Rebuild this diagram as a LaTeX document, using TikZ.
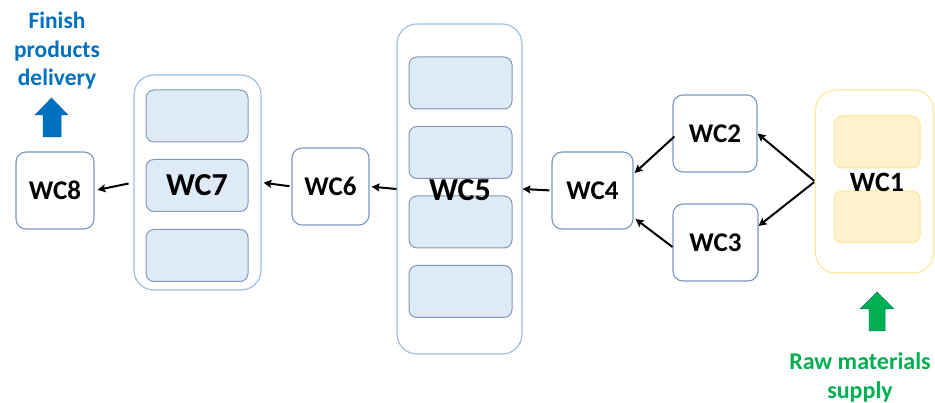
\documentclass[tikz,border=0pt]{standalone}
\usepackage{fontspec}
\setmainfont{Carlito}
\usetikzlibrary{arrows.meta}
\definecolor{boxline}{RGB}{118,152,194}
\definecolor{outerline}{RGB}{150,190,228}
\definecolor{innerfill}{RGB}{222,235,247}
\definecolor{innerline}{RGB}{128,152,184}
\definecolor{yelline}{RGB}{255,230,153}
\definecolor{yelfill}{RGB}{255,242,204}
\definecolor{blueT}{RGB}{0,112,192}
\definecolor{greenT}{RGB}{0,176,80}
\begin{document}
\begin{tikzpicture}[x=1pt,y=-1pt,
  wcbox/.style={draw=boxline, line width=1.1pt, rounded corners=10pt, fill=white, inner sep=0pt,
    font=\bfseries\fontsize{27}{32}\selectfont},
  outerbox/.style={draw=outerline, line width=1.1pt, rounded corners=20pt, inner sep=0pt},
  innerbox/.style={draw=innerline, line width=1pt, fill=innerfill, rounded corners=8pt, inner sep=0pt,
    minimum height=52pt},
  ybox/.style={draw=yelline, line width=1.1pt, rounded corners=20pt, inner sep=0pt},
  yinner/.style={draw=yelline, line width=1pt, fill=yelfill, rounded corners=8pt, inner sep=0pt,
    minimum width=86pt, minimum height=52pt},
  biglabel/.style={inner sep=0pt, font=\bfseries\fontsize{32}{38}\selectfont},
  flow/.style={line width=2pt, -{Stealth[length=8pt,width=8pt,inset=1.5pt]}}
]
\useasboundingbox (0,0) rectangle (935,403);

% WC8
\node[wcbox, minimum width=78pt, minimum height=77pt] (wc8) at (55,190.5) {WC8};

% WC7 group
\node[outerbox, minimum width=127pt, minimum height=215pt] (wc7) at (197.5,182.5) {};
\node[innerbox, minimum width=102pt] (wc7a) at (197,116) {};
\node[innerbox, minimum width=102pt, font=\bfseries\fontsize{32}{38}\selectfont] (wc7b) at (197,185.5) {WC7};
\node[innerbox, minimum width=102pt] (wc7c) at (197,255.5) {};

% WC6
\node[wcbox, minimum width=77pt, minimum height=77pt] (wc6) at (330.5,186.5) {WC6};

% WC5 group
\node[outerbox, minimum width=125pt, minimum height=330pt] (wc5) at (459.5,189) {};
\node[innerbox, minimum width=103pt] (wc5a) at (460.5,83) {};
\node[innerbox, minimum width=103pt] (wc5b) at (460.5,152.5) {};
\node[innerbox, minimum width=103pt] (wc5c) at (460.5,222) {};
\node[innerbox, minimum width=103pt] (wc5d) at (460.5,291.5) {};
\node[biglabel] (wc5label) at (460,190) {WC5};

% WC4, WC2, WC3
\node[wcbox, minimum width=81pt, minimum height=77pt] (wc4) at (592.5,190.5) {WC4};
\node[wcbox, minimum width=84pt, minimum height=77pt] (wc2) at (715,133.5) {WC2};
\node[wcbox, minimum width=85pt, minimum height=77pt] (wc3) at (715.5,242.5) {WC3};

% WC1 group
\node[ybox, minimum width=118pt, minimum height=183pt] (wc1) at (874.5,181.5) {};
\node[yinner] (wc1a) at (877,142) {};
\node[yinner] (wc1b) at (877,217) {};
\node[inner sep=0pt, font=\bfseries\fontsize{28}{32}\selectfont] (wc1label) at (877,182) {WC1};

% connectors
\draw[flow, shorten <=5pt, shorten >=3pt] (wc7.west) -- (wc8.east);
\draw[flow, shorten <=2pt, shorten >=2pt] (wc6.west) -- (wc7.east);
\draw[flow, shorten >=2pt] (wc5.west) -- (wc6.east);
\draw[flow, shorten <=2pt] (wc4.west) -- (wc5.east);
\draw[flow, shorten <=1pt] (wc1.west) -- (wc2.east);
\draw[flow, shorten <=1pt] (wc1.west) -- ([yshift=16.5pt]wc3.east);
\draw[flow] ([yshift=-3pt, xshift=2pt]wc2.west) -- ([yshift=17.5pt, xshift=1pt]wc4.east);
\draw[flow] ([yshift=-4.5pt]wc3.west) -- ([yshift=-28.5pt, xshift=2pt]wc4.east);

% block arrows
\filldraw[fill=blueT, draw=blueT!85!black, line width=0.5pt]
  (43,137) -- (43,115) -- (35,115) -- (51.5,98) -- (68,115) -- (61,115) -- (61,137) -- cycle;
\filldraw[fill=greenT, draw=greenT!70!blue, line width=0.5pt]
  (869,331) -- (869,309) -- (860,309) -- (877,292) -- (894,309) -- (885,309) -- (885,331) -- cycle;

% texts
\node[anchor=base, align=center, inner sep=0pt, text=blueT, font=\bfseries\fontsize{23.5}{28.5}\selectfont] (fin) at (57,86) {Finish\\products\\delivery};
\node[anchor=base, align=center, inner sep=0pt, text=greenT, font=\bfseries\fontsize{24}{28.5}\selectfont] (raw) at (860,398.5) {Raw materials\\supply};
\end{tikzpicture}
\end{document}
